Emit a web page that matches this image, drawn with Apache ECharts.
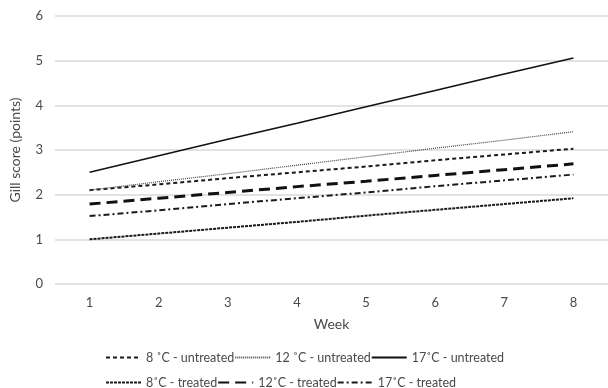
<!DOCTYPE html>
<html>
<head>
<meta charset="utf-8">
<script src="https://cdn.jsdelivr.net/npm/echarts@6/dist/echarts.min.js"></script>
<style>
  html, body { margin: 0; padding: 0; background: #fff; }
  #chart { width: 608px; height: 388px; }
</style>
</head>
<body>
<div id="chart"></div>
<script>
  // weeks on the x axis
  var weeks = ['1', '2', '3', '4', '5', '6', '7', '8'];

  // gill score per week
  var untreated8 = [2.10, 2.23, 2.37, 2.50, 2.63, 2.77, 2.90, 3.03];
  var untreated12 = [2.10, 2.29, 2.47, 2.66, 2.85, 3.04, 3.22, 3.41];
  var untreated17 = [2.50, 2.87, 3.24, 3.60, 3.97, 4.33, 4.70, 5.06];
  var treated8 = [1.00, 1.13, 1.26, 1.39, 1.53, 1.66, 1.79, 1.92];
  var treated12 = [1.79, 1.92, 2.05, 2.18, 2.30, 2.43, 2.56, 2.69];
  var treated17 = [1.52, 1.65, 1.79, 1.92, 2.05, 2.19, 2.32, 2.45];

  var rowUntreated = ['8 ˚C - untreated', '12 ˚C - untreated', '17˚C - untreated'];
  var rowTreated = ['8˚C - treated', '12˚C - treated', '17˚C - treated'];

  var font = 'Lato';
  var grey = '#4a4a4a';

  function line(name, data, width, type, color) {
    return {
      name: name,
      type: 'line',
      data: data,
      symbol: 'none',
      silent: true,
      lineStyle: { width: width, type: type, color: color },
      itemStyle: { color: color }
    };
  }

  // legend laid out as 3 fixed columns, one component per row
  var legendBase = {
    left: 100,
    itemWidth: 35,
    itemHeight: 14,
    itemGap: 0,
    itemStyle: { opacity: 0 },
    textStyle: { fontFamily: font, fontSize: 12.5, color: grey, width: 99 }
  };

  var option = {
    animation: false,
    textStyle: { fontFamily: font },
    grid: { left: 48, right: -4, top: 16, bottom: 104 },
    legend: [
      Object.assign({}, legendBase, { top: 346, data: rowUntreated }),
      Object.assign({}, legendBase, { top: 371, data: rowTreated })
    ],
    xAxis: {
      type: 'category',
      data: weeks,
      name: 'Week',
      nameLocation: 'middle',
      nameGap: 33,
      nameTextStyle: { fontFamily: font, fontSize: 14, color: grey },
      axisLine: { show: false },
      axisTick: { show: false },
      axisLabel: { fontFamily: font, fontSize: 13, color: grey, margin: 12 }
    },
    yAxis: {
      type: 'value',
      min: 0,
      max: 6,
      interval: 1,
      name: 'Gill score (points)',
      nameLocation: 'middle',
      nameGap: 33,
      nameTextStyle: { fontFamily: font, fontSize: 14, color: grey },
      axisLabel: { fontFamily: font, fontSize: 13, color: grey, margin: 12 },
      splitLine: { lineStyle: { color: '#d9d9d9', width: 1.5 } }
    },
    series: [
      line('8 ˚C - untreated', untreated8, 2, [4, 3], '#1a1a1a'),
      line('12 ˚C - untreated', untreated12, 1.2, [1, 1], '#444'),
      line('17˚C - untreated', untreated17, 1.5, 'solid', '#111'),
      line('8˚C - treated', treated8, 2, [3, 1], '#1a1a1a'),
      line('12˚C - treated', treated12, 3, [11, 6], '#111'),
      line('17˚C - treated', treated17, 2, [6, 3, 2, 3], '#1a1a1a')
    ]
  };

  var chart = echarts.init(document.getElementById('chart'));
  chart.setOption(option);
</script>
</body>
</html>
